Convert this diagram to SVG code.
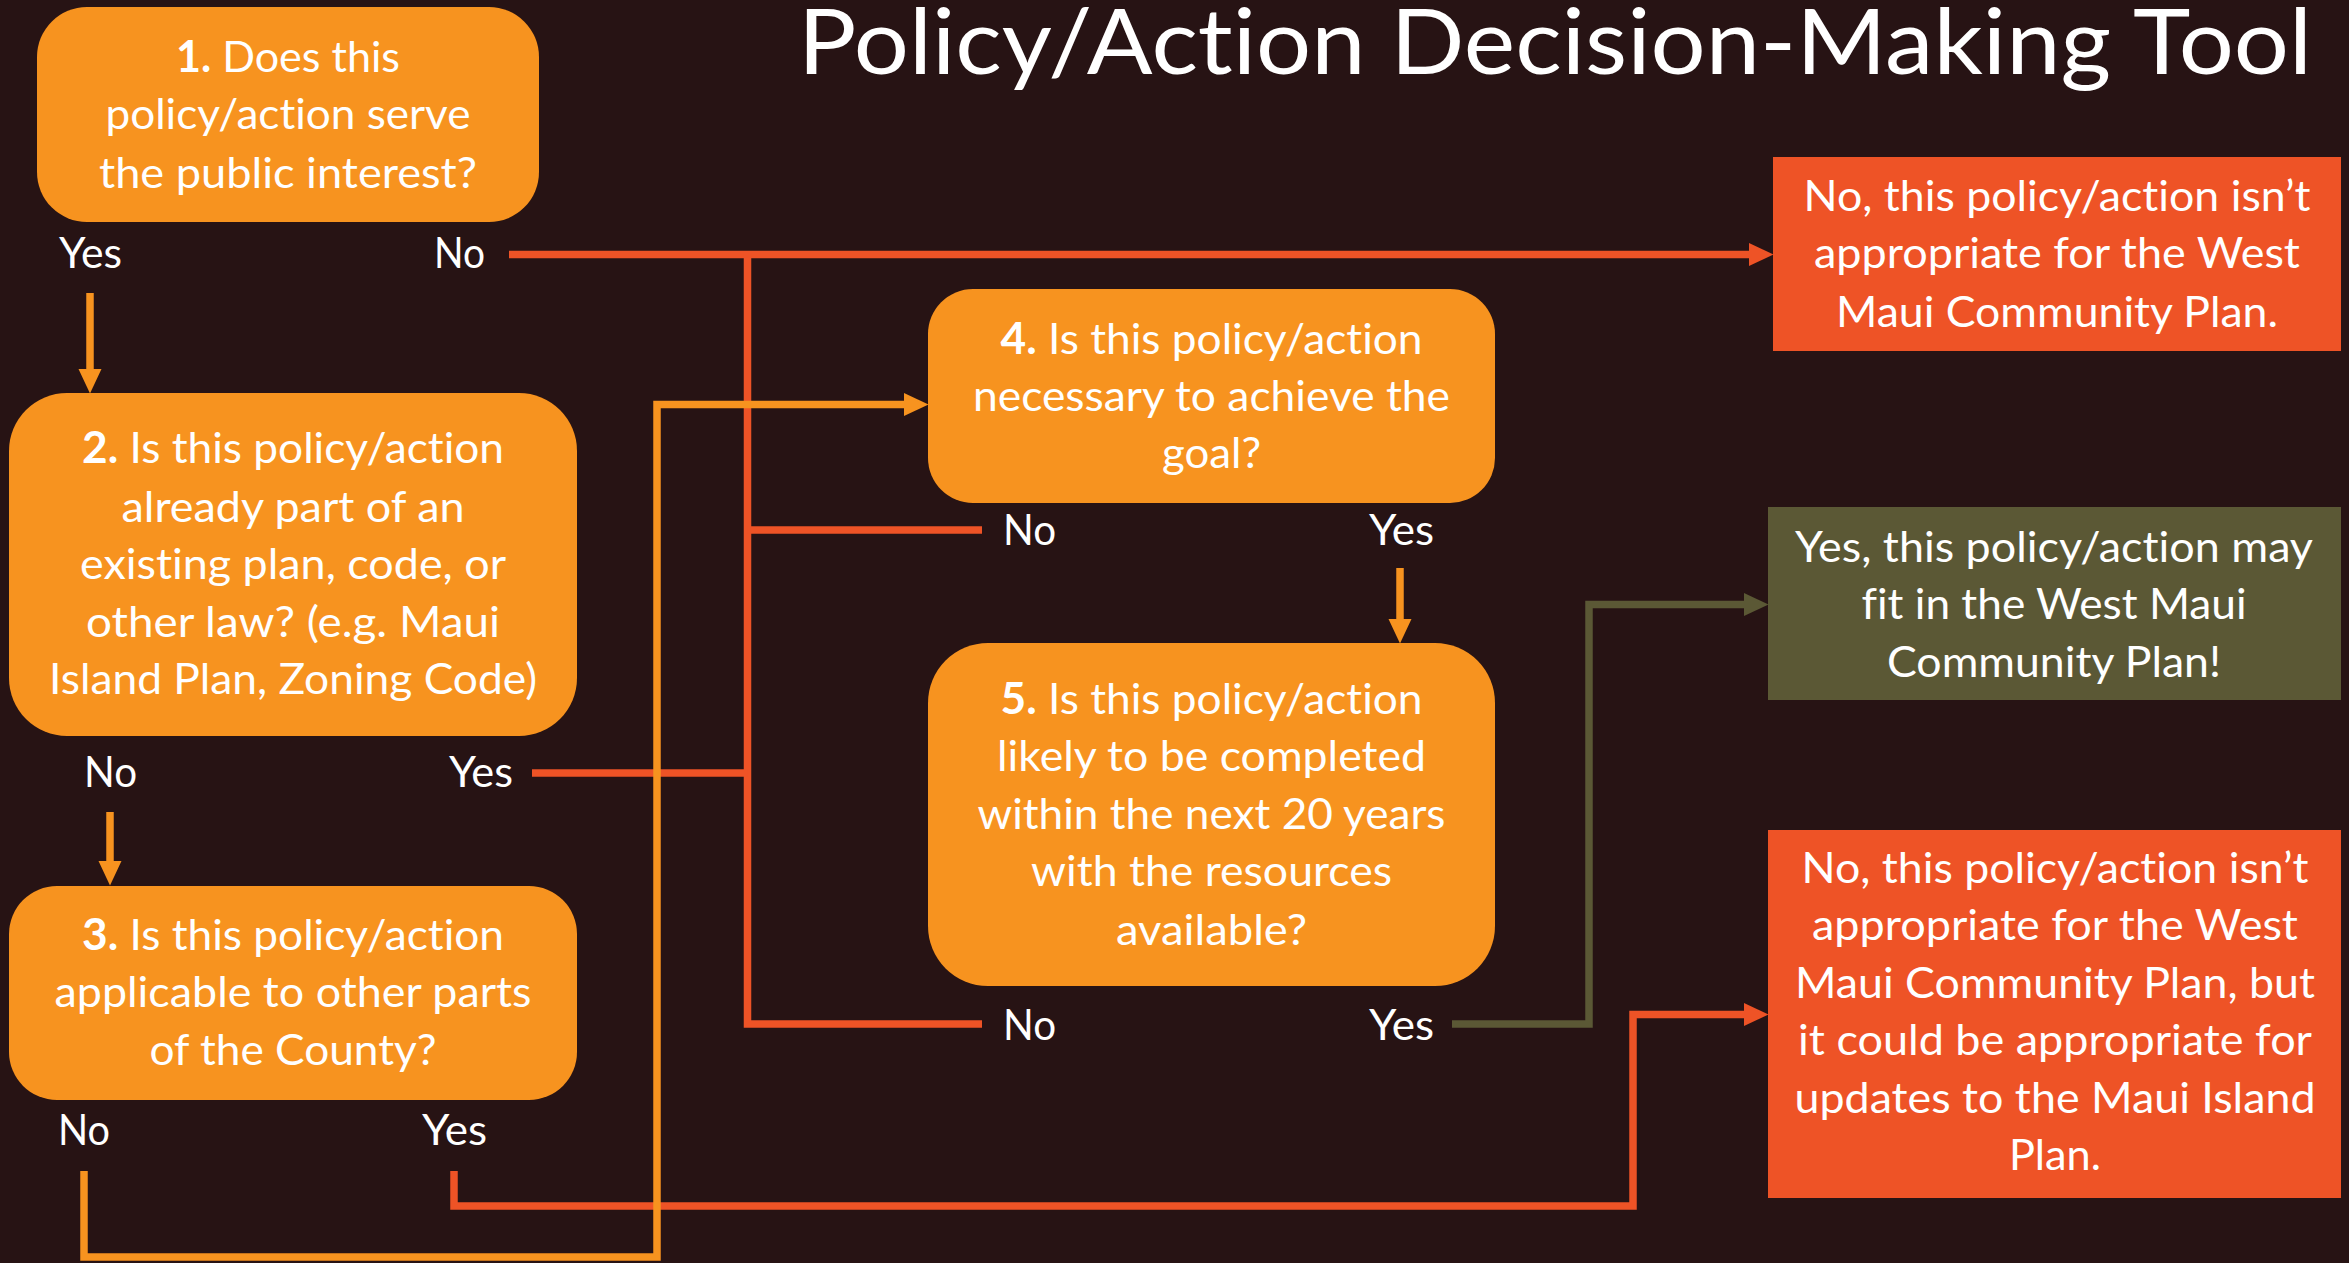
<svg xmlns="http://www.w3.org/2000/svg" width="2349" height="1263" viewBox="0 0 2349 1263">
<defs>
<style>
.bg{fill:#271314}
.q{fill:#F7931F}
.nr{fill:#EE5326}
.ng{fill:#5B5835}
text{font-family:Lato,"Open Sans","Liberation Sans",sans-serif;fill:#FFFFFF;font-size:43px;font-variant-ligatures:none}
.c{text-anchor:middle}
.b{font-weight:bold}
.title{font-size:91px}
.lo{fill:none;stroke:#F7931F;stroke-width:7.5;stroke-linejoin:miter}
.lr{fill:none;stroke:#EE5326;stroke-width:7.5;stroke-linejoin:miter}
.lg{fill:none;stroke:#5B5835;stroke-width:7.5;stroke-linejoin:miter}
</style>
<marker id="ao" markerUnits="userSpaceOnUse" markerWidth="25" markerHeight="24" refX="0" refY="11.5" orient="auto" overflow="visible"><path d="M0,0 L24.5,11.5 L0,23 z" fill="#F7931F"/></marker>
<marker id="ar" markerUnits="userSpaceOnUse" markerWidth="25" markerHeight="24" refX="0" refY="11.5" orient="auto" overflow="visible"><path d="M0,0 L24.5,11.5 L0,23 z" fill="#EE5326"/></marker>
<marker id="ag" markerUnits="userSpaceOnUse" markerWidth="25" markerHeight="24" refX="0" refY="11.5" orient="auto" overflow="visible"><path d="M0,0 L24.5,11.5 L0,23 z" fill="#5B5835"/></marker>
</defs>
<rect class="bg" x="0" y="0" width="2349" height="1263"/>
<text class="title" x="798" y="74" textLength="1514" lengthAdjust="spacingAndGlyphs">Policy/Action Decision-Making Tool</text>

<g id="connectors">
<path class="lr" d="M509,254.5 H1749" marker-end="url(#ar)"/>
<path class="lr" d="M747.5,251 V1024 H982"/>
<path class="lr" d="M532,773 H747.5"/>
<path class="lr" d="M982,530 H747.5"/>
<path class="lr" d="M454,1171 V1206 H1633 V1014.5 H1744" marker-end="url(#ar)"/>
<path class="lg" d="M1452,1024 H1589 V604.5 H1744" marker-end="url(#ag)"/>
<path class="lo" d="M90,293 V369" marker-end="url(#ao)"/>
<path class="lo" d="M110,812 V861" marker-end="url(#ao)"/>
<path class="lo" d="M84,1171 V1257 H657 V404.5 H904" marker-end="url(#ao)"/>
<path class="lo" d="M1400,568 V619" marker-end="url(#ao)"/>
</g>

<g id="node1">
<rect class="q" x="37" y="7" width="502" height="215" rx="50"/>
<text class="c" x="288" y="72" textLength="224" lengthAdjust="spacingAndGlyphs"><tspan class="b">1.</tspan> Does this</text>
<text class="c" x="288" y="129" textLength="365" lengthAdjust="spacingAndGlyphs">policy/action serve</text>
<text class="c" x="288" y="188" textLength="378" lengthAdjust="spacingAndGlyphs">the public interest?</text>
<text x="59" y="268" textLength="63" lengthAdjust="spacingAndGlyphs">Yes</text>
<text x="434" y="268" textLength="51" lengthAdjust="spacingAndGlyphs">No</text>
</g>

<g id="node2">
<rect class="q" x="9" y="393" width="568" height="343" rx="58"/>
<text class="c" x="293" y="463" textLength="422" lengthAdjust="spacingAndGlyphs"><tspan class="b">2.</tspan> Is this policy/action</text>
<text class="c" x="293" y="522" textLength="343" lengthAdjust="spacingAndGlyphs">already part of an</text>
<text class="c" x="293" y="579" textLength="426" lengthAdjust="spacingAndGlyphs">existing plan, code, or</text>
<text class="c" x="293" y="637" textLength="414" lengthAdjust="spacingAndGlyphs">other law? (e.g. Maui</text>
<text class="c" x="293" y="694" textLength="488" lengthAdjust="spacingAndGlyphs">Island Plan, Zoning Code)</text>
<text x="84" y="787" textLength="53" lengthAdjust="spacingAndGlyphs">No</text>
<text x="449" y="787" textLength="64" lengthAdjust="spacingAndGlyphs">Yes</text>
</g>

<g id="node3">
<rect class="q" x="9" y="886" width="568" height="214" rx="48"/>
<text class="c" x="293" y="950" textLength="422" lengthAdjust="spacingAndGlyphs"><tspan class="b">3.</tspan> Is this policy/action</text>
<text class="c" x="293" y="1007" textLength="477" lengthAdjust="spacingAndGlyphs">applicable to other parts</text>
<text class="c" x="293" y="1065" textLength="287" lengthAdjust="spacingAndGlyphs">of the County?</text>
<text x="58" y="1145" textLength="52" lengthAdjust="spacingAndGlyphs">No</text>
<text x="422" y="1145" textLength="65" lengthAdjust="spacingAndGlyphs">Yes</text>
</g>

<g id="node4">
<rect class="q" x="928" y="289" width="567" height="214" rx="45"/>
<text class="c" x="1211.5" y="354" textLength="422" lengthAdjust="spacingAndGlyphs"><tspan class="b">4.</tspan> Is this policy/action</text>
<text class="c" x="1211.5" y="411" textLength="477" lengthAdjust="spacingAndGlyphs">necessary to achieve the</text>
<text class="c" x="1211.5" y="468" textLength="99" lengthAdjust="spacingAndGlyphs">goal?</text>
<text x="1003" y="545" textLength="53" lengthAdjust="spacingAndGlyphs">No</text>
<text x="1369" y="545" textLength="65" lengthAdjust="spacingAndGlyphs">Yes</text>
</g>

<g id="node5">
<rect class="q" x="928" y="643" width="567" height="343" rx="60"/>
<text class="c" x="1211.5" y="714" textLength="422" lengthAdjust="spacingAndGlyphs"><tspan class="b">5.</tspan> Is this policy/action</text>
<text class="c" x="1211.5" y="771" textLength="429" lengthAdjust="spacingAndGlyphs">likely to be completed</text>
<text class="c" x="1211.5" y="829" textLength="468" lengthAdjust="spacingAndGlyphs">within the next 20 years</text>
<text class="c" x="1211.5" y="886" textLength="361" lengthAdjust="spacingAndGlyphs">with the resources</text>
<text class="c" x="1211.5" y="945" textLength="191" lengthAdjust="spacingAndGlyphs">available?</text>
<text x="1003" y="1040" textLength="53" lengthAdjust="spacingAndGlyphs">No</text>
<text x="1369" y="1040" textLength="65" lengthAdjust="spacingAndGlyphs">Yes</text>
</g>

<g id="resultNo">
<rect class="nr" x="1773" y="157" width="568" height="194"/>
<text class="c" x="2057" y="211" textLength="507" lengthAdjust="spacingAndGlyphs">No, this policy/action isn’t</text>
<text class="c" x="2057" y="268" textLength="486" lengthAdjust="spacingAndGlyphs">appropriate for the West</text>
<text class="c" x="2057" y="327" textLength="442" lengthAdjust="spacingAndGlyphs">Maui Community Plan.</text>
</g>

<g id="resultYes">
<rect class="ng" x="1768" y="507" width="573" height="193"/>
<text class="c" x="2054" y="562" textLength="518" lengthAdjust="spacingAndGlyphs">Yes, this policy/action may</text>
<text class="c" x="2054" y="619" textLength="385" lengthAdjust="spacingAndGlyphs">fit in the West Maui</text>
<text class="c" x="2054" y="677" textLength="334" lengthAdjust="spacingAndGlyphs">Community Plan!</text>
</g>

<g id="resultIsland">
<rect class="nr" x="1768" y="830" width="573" height="368"/>
<text class="c" x="2055" y="883" textLength="507" lengthAdjust="spacingAndGlyphs">No, this policy/action isn’t</text>
<text class="c" x="2055" y="940" textLength="486" lengthAdjust="spacingAndGlyphs">appropriate for the West</text>
<text class="c" x="2055" y="998" textLength="520" lengthAdjust="spacingAndGlyphs">Maui Community Plan, but</text>
<text class="c" x="2055" y="1055" textLength="514" lengthAdjust="spacingAndGlyphs">it could be appropriate for</text>
<text class="c" x="2055" y="1113" textLength="521" lengthAdjust="spacingAndGlyphs">updates to the Maui Island</text>
<text class="c" x="2055" y="1170" textLength="92" lengthAdjust="spacingAndGlyphs">Plan.</text>
</g>
</svg>
